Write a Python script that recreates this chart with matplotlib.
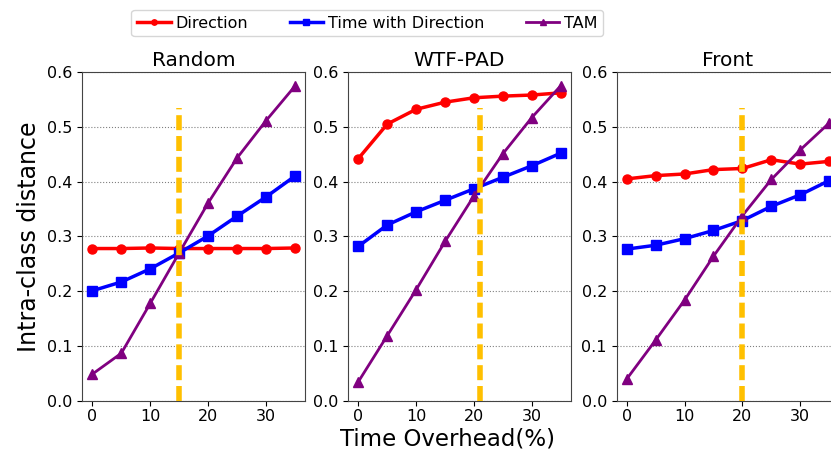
import matplotlib
import matplotlib.pyplot as plt
import numpy as np

matplotlib.use("agg")

overhead = [0, 5, 10, 15, 20, 25, 30, 35]
titles = ["Random", "WTF-PAD", "Front"]

# Direction / Time with Direction / TAM, one list per panel
direction = [
    [0.278, 0.278, 0.279, 0.278, 0.278, 0.278, 0.278, 0.279],
    [0.442, 0.505, 0.532, 0.545, 0.553, 0.556, 0.558, 0.562],
    [0.405, 0.411, 0.414, 0.422, 0.424, 0.440, 0.432, 0.437],
]
time_dir = [
    [0.201, 0.217, 0.241, 0.270, 0.301, 0.337, 0.372, 0.410],
    [0.282, 0.321, 0.345, 0.366, 0.387, 0.408, 0.429, 0.452],
    [0.277, 0.284, 0.296, 0.311, 0.329, 0.355, 0.376, 0.402],
]
tam = [
    [0.049, 0.087, 0.178, 0.270, 0.361, 0.443, 0.511, 0.574],
    [0.035, 0.119, 0.203, 0.291, 0.374, 0.451, 0.517, 0.575],
    [0.040, 0.111, 0.184, 0.264, 0.338, 0.404, 0.458, 0.507],
]
# crossing point marked by the dashed line
cross_x = [15, 21, 20]
cross_top = 0.535

fig = plt.figure(figsize=(8.31, 4.5), dpi=100)
lefts = [0.099, 0.419, 0.742]
axes = []
for i in range(3):
    ax = fig.add_axes([lefts[i], 0.109, 0.268, 0.731])
    axes.append(ax)
    ax.plot(overhead, direction[i], color="red", marker="o", lw=2.5, ms=6.5, label="Direction")
    ax.plot(overhead, time_dir[i], color="blue", marker="s", lw=2.5, ms=6.5, label="Time with Direction")
    ax.plot(overhead, tam[i], color="purple", marker="^", lw=2, ms=6.5, label="TAM")
    ax.plot([cross_x[i], cross_x[i]], [0, cross_top], color="#ffc000", lw=4, ls=(0, (2.7, 1.05)), zorder=3)
    ax.set_ylim(0, 0.6)
    ax.set_xlim(-1.75, 36.75)
    ax.set_xticks([0, 10, 20, 30])
    ax.set_yticks(np.arange(0, 0.61, 0.1))
    ax.yaxis.grid(True, ls=":", color="gray", lw=0.8)
    ax.set_axisbelow(True)
    ax.tick_params(labelsize=11.5)
    ax.tick_params(axis="x", pad=2.5)
    ax.set_title(titles[i], fontsize=14.5, pad=4)
    for s in ax.spines.values():
        s.set_color("#444444")

axes[0].set_ylabel("Intra-class distance", fontsize=17)
fig.text(0.538, 0.0, "Time Overhead(%)", ha="center", va="bottom", fontsize=16.5)

h, l = axes[0].get_legend_handles_labels()
fig.legend(h, l, loc="upper center", bbox_to_anchor=(0.442, 0.995), ncol=3,
           fontsize=11.5, handlelength=2.1, markerscale=0.6, columnspacing=2.6,
           handletextpad=0.3, borderpad=0.35)

plt.savefig("out.png", dpi=100)
plt.close(fig)
